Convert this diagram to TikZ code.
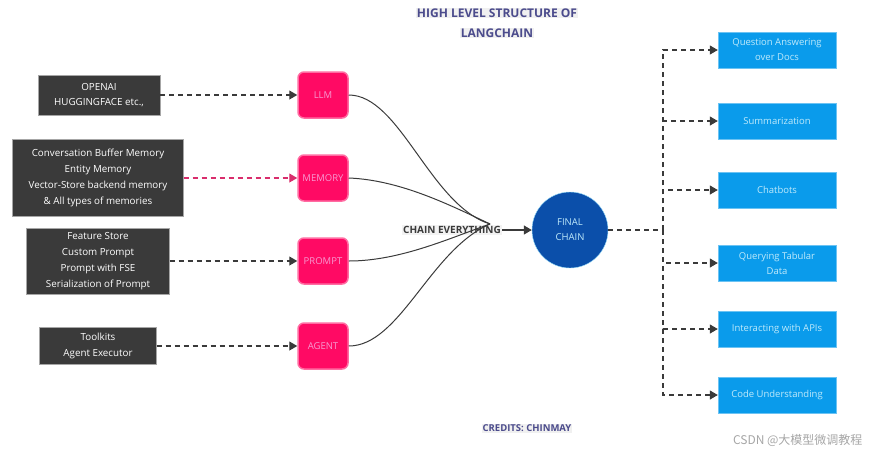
\documentclass[tikz,border=0pt]{standalone}
\usepackage{fontspec}
\setmainfont{Open Sans}
\usetikzlibrary{arrows.meta}
\newfontfamily\cjkf{Noto Sans CJK SC}
\definecolor{dk}{HTML}{3A3A3A}
\definecolor{pk}{HTML}{FF0A64}
\definecolor{bl}{HTML}{0A9BEB}
\definecolor{nv}{HTML}{0B4FAA}
\definecolor{tt}{HTML}{4B4B8C}
\begin{document}
\begin{tikzpicture}[x=1pt,y=-1pt,
 dbox/.style={fill=dk,draw=gray!70,text=white,align=center,font=\fontsize{9.8}{15.8}\selectfont,inner sep=2pt},
 pbox/.style={fill=pk,draw=pk!60,line width=1.5pt,rounded corners=6pt,minimum width=50pt,minimum height=46pt,text=magenta!40!white,font=\fontsize{9.5}{10}\selectfont,inner sep=0pt},
 bbox/.style={fill=bl,draw=bl!60,text=cyan!25!white,minimum width=118pt,minimum height=36pt,align=center,font=\fontsize{9.5}{15}\selectfont,inner sep=1pt},
 dsh/.style={dashed,dash pattern=on 5pt off 4pt,line width=1.1pt,-{Triangle[length=8pt,width=9pt]}},
 ttl/.style={text=tt,fill=gray!12,font=\bfseries\fontsize{12}{14}\selectfont,inner sep=1pt}]
\useasboundingbox (0,0) rectangle (869,456);
\node[ttl] (t1) at (497,13) {HIGH LEVEL STRUCTURE OF};
\node[ttl] (t2) at (497,33) {LANGCHAIN};
\node[dbox,minimum width=122pt,minimum height=40pt] (d1) at (99,95) {OPENAI\\HUGGINGFACE etc.,};
\node[dbox,minimum width=171pt,minimum height=77pt] (d2) at (98,178) {Conversation Buffer Memory\\Entity Memory\\Vector-Store backend memory\\\& All types of memories};
\node[dbox,minimum width=143pt,minimum height=66pt] (d3) at (98,261) {Feature Store\\Custom Prompt\\Prompt with FSE\\Serialization of Prompt};
\node[dbox,minimum width=117pt,minimum height=37pt] (d4) at (98,346) {Toolkits\\Agent Executor};
\node[pbox] (p1) at (323,95) {LLM};
\node[pbox] (p2) at (323,178) {MEMORY};
\node[pbox] (p3) at (323,261) {PROMPT};
\node[pbox] (p4) at (323,346) {AGENT};
\draw[dsh,draw=dk] (d1) -- (p1);
\draw[dsh,draw=pk!70!gray] (d2) -- (p2);
\draw[dsh,draw=dk] (d3) -- (p3);
\draw[dsh,draw=dk] (d4) -- (p4);
\node[fill=gray!10,font=\bfseries\fontsize{10}{12}\selectfont,text=dk,inner sep=1pt] (ce) at (452,230) {CHAIN EVERYTHING};
\coordinate (m) at (490,224);
\draw[line width=1pt,dk] (p1.east) .. controls (400,95) and (430,205) .. (m);
\draw[line width=1pt,dk] (p2.east) .. controls (400,180) and (450,205) .. (m);
\draw[line width=1pt,dk] (p3.east) .. controls (400,261) and (450,238) .. (m);
\draw[line width=1pt,dk] (p4.east) .. controls (400,346) and (430,250) .. (m);
\node[circle,fill=nv,draw=cyan!40,minimum size=76pt,align=center,text=cyan!25!white,font=\fontsize{9.5}{15}\selectfont] (fc) at (570,230) {FINAL\\CHAIN};
\draw[line width=1.4pt,dk,-{Triangle[length=8pt,width=9pt]}] (ce) -- (fc);
\coordinate (j) at (663,230);
\draw[dashed,dash pattern=on 5pt off 4pt,line width=1.1pt,dk] (fc) -- (j);
\node[bbox] (b1) at (777,50) {Question Answering\\over Docs};
\node[bbox] (b2) at (777,121) {Summarization};
\node[bbox] (b3) at (777,190) {Chatbots};
\node[bbox] (b4) at (777,263) {Querying Tabular\\Data};
\node[bbox] (b5) at (777,329) {Interacting with APIs};
\node[bbox] (b6) at (777,395) {Code Understanding};
\foreach \b in {b1,b2,b3,b4,b5,b6}{
 \draw[dsh,draw=dk] (j) |- (\b.west);
}
\node[text=tt,fill=gray!12,font=\bfseries\fontsize{9.5}{10}\selectfont,inner sep=1pt] (cr) at (527,428) {CREDITS: CHINMAY};
\node[text=gray!70,font=\cjkf\fontsize{12}{13}\selectfont,anchor=east] (wm) at (866,440) {CSDN @大模型微调教程};
\end{tikzpicture}
\end{document}
